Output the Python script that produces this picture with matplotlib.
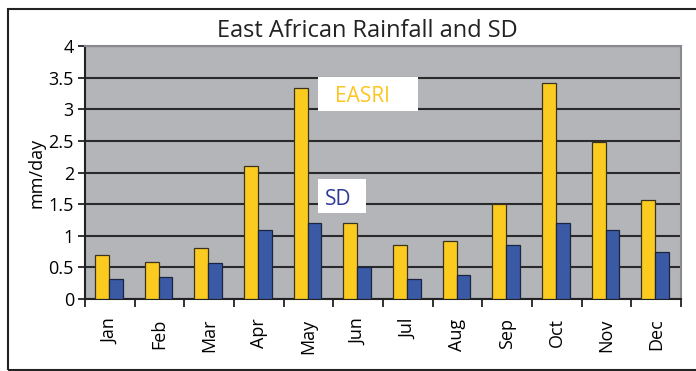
import numpy as np
import matplotlib.pyplot as plt
from matplotlib.patches import Rectangle

plt.rcParams['font.family'] = ['Open Sans', 'DejaVu Sans']

# monthly rainfall index and standard deviation (mm/day)
months = ['Jan', 'Feb', 'Mar', 'Apr', 'May', 'Jun', 'Jul', 'Aug', 'Sep', 'Oct', 'Nov', 'Dec']
easri = [0.70, 0.59, 0.80, 2.10, 3.34, 1.20, 0.85, 0.91, 1.50, 3.41, 2.49, 1.56]
sd = [0.31, 0.34, 0.57, 1.09, 1.20, 0.50, 0.31, 0.38, 0.85, 1.20, 1.09, 0.75]
yticks = [0, 0.5, 1, 1.5, 2, 2.5, 3, 3.5, 4]

fig = plt.figure(figsize=(6.96, 3.71), dpi=100)
ax = fig.add_axes([85/696, 1 - 299/371, 596/696, 253/371])

x = np.arange(len(months))
w = 0.28
ax.bar(x - 0.02 - w/2, easri, w, color='#fccb20', edgecolor='#3a3320', linewidth=0.9, zorder=3)
ax.bar(x - 0.02 + w/2, sd, w, color='#3a5aa6', edgecolor='#1c2540', linewidth=0.9, zorder=3)

ax.set_facecolor('#b4b5b9')
ax.set_xlim(-0.5, len(months) - 0.5)
ax.set_ylim(0, 4)
ax.set_yticks(yticks)
ax.set_yticklabels(['0', '0.5', '1', '1.5', '2', '2.5', '3', '3.5', '4'], fontsize=13)
ax.yaxis.grid(True, color='#2a2a2a', linewidth=1.5, zorder=1)
ax.set_axisbelow(True)

ax.set_xticks(x)
ax.set_xticklabels(months, rotation=90, fontsize=13)
ax.set_xticks(np.arange(-0.5, len(months)), minor=True)
ax.tick_params(axis='x', which='major', length=0, pad=14)
ax.tick_params(axis='x', which='minor', length=6, width=1.3, color='#222222', direction='out')
ax.tick_params(axis='y', length=5, width=1.3, color='#222222', pad=3)

for s in ['left', 'bottom']:
    ax.spines[s].set_color('#222222')
    ax.spines[s].set_linewidth(1.5)
for s in ['top', 'right']:
    ax.spines[s].set_color('#8a8a8e')
    ax.spines[s].set_linewidth(1.5)

ax.set_ylabel('mm/day', fontsize=13, labelpad=2)

# series labels in white boxes
ax.add_patch(Rectangle((0.391, 0.743), 0.168, 0.134, transform=ax.transAxes,
                       facecolor='white', edgecolor='none', zorder=4))
ax.text(0.42, 0.80, 'EASRI', transform=ax.transAxes, fontsize=15, color='#fcc520',
        va='center', ha='left', zorder=5)
ax.add_patch(Rectangle((0.391, 0.339), 0.081, 0.134, transform=ax.transAxes,
                       facecolor='white', edgecolor='none', zorder=4))
ax.text(0.403, 0.395, 'SD', transform=ax.transAxes, fontsize=15, color='#2e3a96',
        va='center', ha='left', zorder=5)

fig.text(367/696, 1 - 31/371, 'East African Rainfall and SD', fontsize=17,
         ha='center', va='center', color='#222222')

# outer frame
fig.patches.append(Rectangle((8/696, 1/371), 700/696, 361/371, transform=fig.transFigure,
                             fill=False, edgecolor='#222222', linewidth=1.5))

fig.savefig('out.png', dpi=100)
